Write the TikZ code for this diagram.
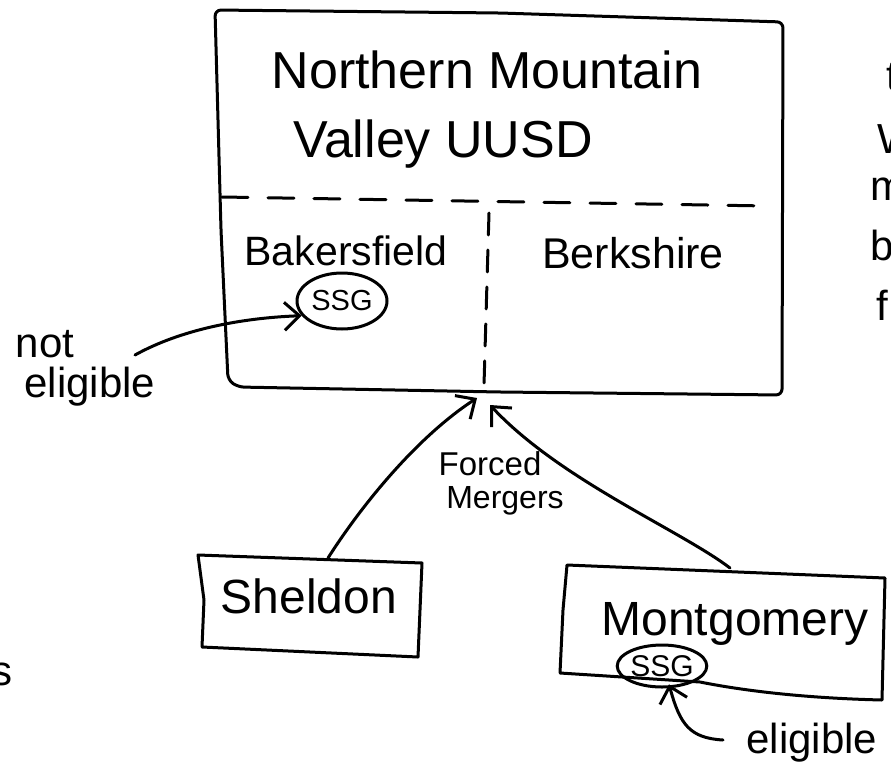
\documentclass[tikz,border=0pt]{standalone}
\usepackage{fontspec}
\setmainfont{Liberation Sans}
\usetikzlibrary{arrows.meta,shapes.geometric}
\newcommand\hsz[1]{\fontsize{#1}{#1}\selectfont}
\begin{document}
\begin{tikzpicture}[x=1pt,y=-1pt,
  ink/.style={line width=3pt, line cap=round, line join=round, draw=black},
  arr/.style={ink, -{Straight Barb[length=15pt,width=28pt]}},
  lbl/.style={anchor=base, inner sep=0pt, text=black},
  oval/.style={ellipse, ink, inner sep=0pt},
  hdash/.style={ink, dash pattern=on 26pt off 20pt},
  vdash/.style={ink, dash pattern=on 22pt off 15pt}]
\useasboundingbox (0,0) rectangle (891,782);
\fill[white] (0,0) rectangle (891,782);

% district box
\draw[ink, rounded corners=6pt] (215,10) -- (500,13) -- (783,22) -- (782,395)
  -- (500,392) -- (238,387) -- (228,380) -- (221,230) -- cycle;
\draw[hdash] (222,197) -- (768,206);
\draw[vdash] (489,213) -- (484,385);
\coordinate (nmvL) at (477,398);
\coordinate (nmvR) at (490,405);

\node[lbl] (title1) at (487,88) {\hsz{52}Northern Mountain};
\node[lbl] (title2) at (443,157) {\hsz{52}Valley UUSD};
\node[lbl] (bak) at (346,265) {\hsz{41}Bakersfield};
\node[lbl] (berk) at (633,268) {\hsz{43}Berkshire};
\node[oval, minimum width=90pt, minimum height=56pt] (ssgA) at (342,301) {\hsz{29}SSG};

% not eligible
\node[lbl] (notlbl) at (45,357) {\hsz{42}not};
\node[lbl] (elig1) at (90,397) {\hsz{42}eligible};
\coordinate (notStart) at (135,355);
\draw[arr] (notStart) .. controls (180,330) and (240,318) .. (ssgA.200);

% Sheldon
\draw[ink] (198,555) -- (422,563) -- (418,657) -- (202,647) -- (204,600) -- cycle;
\node[lbl] (sheldon) at (309,613) {\hsz{48}Sheldon};
\coordinate (shTop) at (328,558);

% Montgomery
\draw[ink] (567,565) -- (885,578) -- (882,700)
  .. controls (800,698) and (740,690) .. (700,682) -- (560,673) -- (563,610) -- cycle;
\node[lbl] (montg) at (735,635) {\hsz{48}Montgomery};
\node[oval, minimum width=88pt, minimum height=42pt] (ssgB) at (662,666) {\hsz{30}SSG};
\coordinate (mtTop) at (730,568);

% forced mergers
\draw[arr] (shTop) .. controls (365,500) and (420,435) .. (nmvL);
\draw[arr] (mtTop) .. controls (680,530) and (560,480) .. (nmvR);
\node[lbl] (forced) at (490,475) {\hsz{33}Forced};
\node[lbl] (mergers) at (505,508) {\hsz{32}Mergers};

% eligible
\node[lbl] (elig2) at (812,753) {\hsz{42}eligible};
\coordinate (eligStart) at (723,740);
\draw[arr, shorten >=-4pt] (eligStart) .. controls (690,738) and (680,725) .. (ssgB.290);

% text cut off at the edges of the reference
\node[lbl, anchor=base west] (cutA) at (886,90) {\hsz{42}t};
\node[lbl, anchor=base west] (cutB) at (877,153) {\hsz{42}W};
\node[lbl, anchor=base west] (cutC) at (870,200) {\hsz{42}m};
\node[lbl, anchor=base west] (cutD) at (870,260) {\hsz{42}b};
\node[lbl, anchor=base west] (cutE) at (876,320) {\hsz{42}f};
\node[lbl, anchor=base west] (cutF) at (-9,685) {\hsz{42}s};
\end{tikzpicture}
\end{document}
